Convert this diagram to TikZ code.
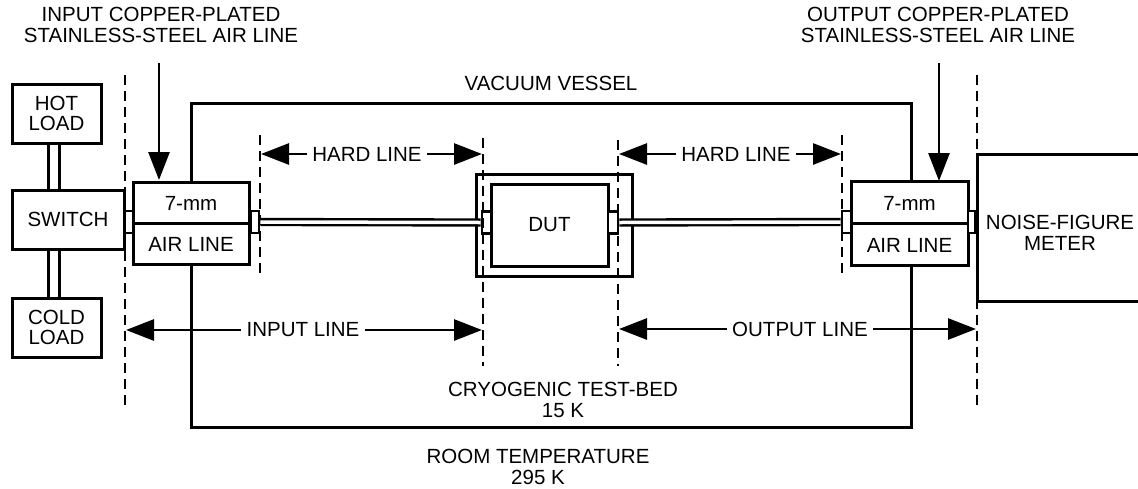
\documentclass[tikz,border=0pt]{standalone}
\usepackage{fontspec}
\setmainfont{Liberation Sans}
\usetikzlibrary{arrows.meta}
\newcommand\lbfnt{\fontsize{20.5}{20.5}\selectfont}
\begin{document}
\begin{tikzpicture}[x=1pt,y=-1pt,font=\lbfnt,
  boxn/.style={draw,line width=3pt,fill=white,inner sep=0pt},
  conn/.style={draw,line width=2.6pt,fill=white,inner sep=0pt,minimum width=8pt,minimum height=22pt},
  lbl/.style={inner sep=0pt,align=center},
  albl/.style={inner sep=5pt,align=center},
  dashln/.style={line width=2.8pt,dash pattern=on 10pt off 6pt},
  arrowln/.style={line width=2.8pt,-{Triangle[length=28pt,width=21pt]}},
  coax/.style={line width=2.4pt,double=white,double distance=3.5pt},
  pair/.style={line width=2.8pt,double=white,double distance=8.5pt},
  vess/.style={line width=3pt}]
\useasboundingbox (0,0) rectangle (1138,488);
\fill[white] (0,0) rectangle (1138,488);

% vacuum vessel
\draw[vess] (191,103) rectangle (911,427);

% dashed boundaries
\draw[dashln] (125,75) -- (125,407);
\draw[dashln] (977,75) -- (977,407);
\draw[dashln] (260,135) -- (260,275);
\draw[dashln] (842,135) -- (842,275);

% boxes
\node[boxn,minimum width=89pt,minimum height=59pt] (hot) at (56.5,113.5) {};
\node[lbl] at (56.5,113.5) {HOT\\LOAD};
\node[boxn,minimum width=112pt,minimum height=59pt] (switch) at (68,219.5) {SWITCH};
\node[boxn,minimum width=89pt,minimum height=59pt] (cold) at (56.5,327.5) {};
\node[lbl] at (56.5,327.5) {COLD\\LOAD};

\draw[pair] (hot.south -| 54,0) -- (switch.north -| 54,0);
\draw[pair] (switch.south -| 54,0) -- (cold.north -| 54,0);

% input air line
\node[boxn,minimum width=116pt,minimum height=82pt] (inair) at (191,223) {};
\draw[line width=3pt] (inair.west) -- (inair.east);
\node[lbl] at (191,203) {7-mm};
\node[lbl] at (191,244) {AIR LINE};

% output air line
\node[boxn,minimum width=117pt,minimum height=84pt] (outair) at (909.5,223.5) {};
\draw[line width=3pt] (outair.west) -- (outair.east);
\node[lbl] at (909.5,203) {7-mm};
\node[lbl] at (909.5,245) {AIR LINE};

% DUT
\node[draw,line width=3pt,inner sep=0pt,minimum width=156pt,minimum height=102pt] (dutouter) at (554,225) {};
\node[boxn,minimum width=117pt,minimum height=82pt] (dut) at (549.5,225) {DUT};

% connectors
\node[conn] (c1) at (129,222) {};
\node[conn] (c2) at (255,222) {};
\node[conn,minimum width=9pt] (c3) at (486.5,222.5) {};
\node[conn,minimum width=10pt] (c4) at (613,222.5) {};
\node[conn,minimum width=9pt] (c5) at (846.5,222) {};
\node[conn,minimum width=7pt] (c6) at (971.5,222) {};

\draw[coax] (c2.east) -- (c3.west);
\draw[coax] (c4.east) -- (c5.west);

% dashed lines through DUT
\draw[dashln] (483,138) -- (483,366);
\draw[dashln] (618,140) -- (618,366);

% noise figure meter (open to the right)
\draw[line width=3pt] (1140,154) -- (977,154) -- (977,301) -- (1140,301);
\node[lbl] (meter) at (1060,233) {NOISE-FIGURE\\METER};

% top labels and arrows
\node[lbl] (inlbl) at (161,25) {INPUT COPPER-PLATED\\STAINLESS-STEEL AIR LINE};
\node[lbl] (outlbl) at (938,25) {OUTPUT COPPER-PLATED\\STAINLESS-STEEL AIR LINE};
\coordinate (inA) at (159,63);
\coordinate (inB) at (159,180);
\coordinate (outA) at (939,63);
\coordinate (outB) at (939,181);
\draw[arrowln] (inA) -- (inB);
\draw[arrowln] (outA) -- (outB);

\node[lbl] (vv) at (551,83) {VACUUM VESSEL};

% hard lines
\node[albl] (hl1) at (367,154) {HARD LINE};
\coordinate (hl1a) at (261,154);
\coordinate (hl1b) at (482,154);
\draw[arrowln] (hl1.west) -- (hl1a);
\draw[arrowln] (hl1.east) -- (hl1b);

\node[albl] (hl2) at (736,154) {HARD LINE};
\coordinate (hl2a) at (619,154);
\coordinate (hl2b) at (841,154);
\draw[arrowln] (hl2.west) -- (hl2a);
\draw[arrowln] (hl2.east) -- (hl2b);

% input / output lines
\node[albl] (il) at (303,330) {INPUT LINE};
\coordinate (ila) at (126,330);
\coordinate (ilb) at (482,330);
\draw[arrowln] (il.west) -- (ila);
\draw[arrowln] (il.east) -- (ilb);

\node[albl] (ol) at (800,329) {OUTPUT LINE};
\coordinate (ola) at (619,329);
\coordinate (olb) at (976,329);
\draw[arrowln] (ol.west) -- (ola);
\draw[arrowln] (ol.east) -- (olb);

% temperature labels
\node[lbl] (cryo) at (563,400) {CRYOGENIC TEST-BED\\15 K};
\node[lbl] (room) at (538,467) {ROOM TEMPERATURE\\295 K};
\end{tikzpicture}
\end{document}
